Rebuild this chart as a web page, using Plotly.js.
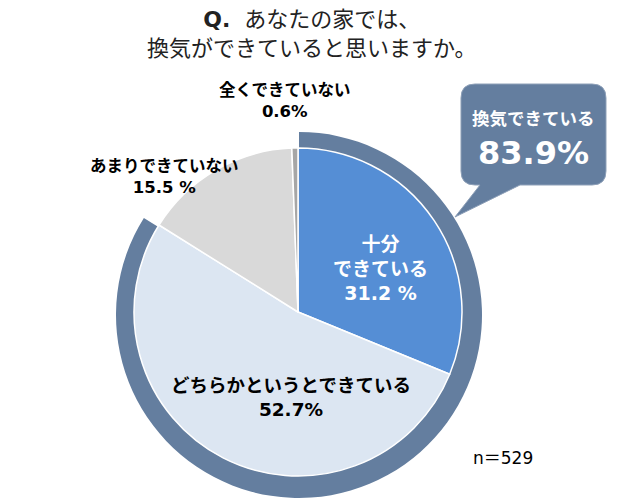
<!DOCTYPE html>
<html>
<head>
<meta charset="utf-8">
<script src="https://cdn.plot.ly/plotly-3.0.1.min.js"></script>
<style>html,body{margin:0;padding:0;background:#fff;}#chart{width:637px;height:500px;}</style>
</head>
<body>
<div id="chart"></div>
<script>
// ---- data ----
var categories = ['十分<br>できている', 'どちらかというとできている', 'あまりできていない', '全くできていない'];
var values = [31.2, 52.7, 15.5, 0.6];
var pctSuffix = [' %', '%', ' %', '%'];
var groupLabel = '換気できている';
var groupValue = 83.9;
var sampleSize = 529;
var titleLines = ['<b>Q.</b>  あなたの家では、', '換気ができていると思いますか。'];

// ---- helpers ----
var W = 637, H = 500;
function px(x) { return x / W; }
function py(y) { return 1 - y / H; }
var FONT = 'DejaVu Sans, Noto Sans CJK JP, sans-serif';
var sliceColors = ['#558ED5', '#DCE6F2', '#D9D9D9', '#A6A6A6'];
var ringColor = '#647E9F';

function dom(cx, cy, r) {
  return { x: [px(cx - r), px(cx + r)], y: [py(cy + r), py(cy - r)] };
}

var ring = {
  type: 'pie',
  values: [groupValue, 100 - groupValue],
  labels: [groupLabel, 'other'],
  marker: { colors: [ringColor, 'rgba(0,0,0,0)'], line: { width: 0 } },
  hole: 0.87,
  sort: false,
  direction: 'clockwise',
  rotation: 0,
  textinfo: 'none',
  hoverinfo: 'skip',
  showlegend: false,
  domain: dom(299, 315, 183)
};

var pie = {
  type: 'pie',
  values: values,
  labels: categories,
  marker: { colors: sliceColors, line: { color: '#ffffff', width: 1.5 } },
  sort: false,
  direction: 'clockwise',
  rotation: 0,
  textinfo: 'none',
  hoverinfo: 'label+percent',
  showlegend: false,
  domain: dom(298, 312, 164)
};

function pct(i) { return values[i].toFixed(1) + pctSuffix[i]; }

var annotations = [
  { x: px(312), y: py(34), text: titleLines.join('<br>'), font: { size: 22, color: '#222' } },
  { x: px(380), y: py(268), text: '<b>' + categories[0] + '<br>' + pct(0) + '</b>', font: { size: 19, color: '#ffffff' } },
  { x: px(291), y: py(397), text: '<b>' + categories[1] + '<br>' + pct(1) + '</b>', font: { size: 18.5, color: '#000' } },
  { x: px(165), y: py(177), text: '<b>' + categories[2] + '<br>' + pct(2) + '</b>', font: { size: 16.5, color: '#000' } },
  { x: px(285), y: py(101), text: '<b>' + categories[3] + '<br>' + pct(3) + '</b>', font: { size: 16.5, color: '#000' } },
  { x: px(533), y: py(119), text: '<b>' + groupLabel + '</b>', font: { size: 17.5, color: '#ffffff' } },
  { x: px(533), y: py(153), text: '<b>' + groupValue.toFixed(1) + '%</b>', font: { size: 32, color: '#ffffff' } },
  { x: px(503), y: py(458), text: 'n＝' + sampleSize, font: { size: 17, color: '#000' } }
].map(function (a) {
  return Object.assign({ xref: 'paper', yref: 'paper', showarrow: false, xanchor: 'center', yanchor: 'middle', align: 'center' }, a, { font: Object.assign({ family: FONT }, a.font) });
});

// speech bubble
function P(x, y) { return px(x).toFixed(5) + ',' + py(y).toFixed(5); }
var bx0 = 461, bx1 = 606, by0 = 84, by1 = 185, rr = 14;
var bubblePath = 'M' + P(bx0 + rr, by0) +
  ' L' + P(bx1 - rr, by0) + ' Q' + P(bx1, by0) + ' ' + P(bx1, by0 + rr) +
  ' L' + P(bx1, by1 - rr) + ' Q' + P(bx1, by1) + ' ' + P(bx1 - rr, by1) +
  ' L' + P(520, by1) + ' L' + P(455, 217) + ' L' + P(480, by1) +
  ' L' + P(bx0 + rr, by1) + ' Q' + P(bx0, by1) + ' ' + P(bx0, by1 - rr) +
  ' L' + P(bx0, by0 + rr) + ' Q' + P(bx0, by0) + ' ' + P(bx0 + rr, by0) + ' Z';

var layout = {
  width: W, height: H,
  margin: { l: 0, r: 0, t: 0, b: 0 },
  paper_bgcolor: '#ffffff',
  showlegend: false,
  shapes: [{ type: 'path', xref: 'paper', yref: 'paper', path: bubblePath, fillcolor: ringColor, line: { color: '#8EA0B8', width: 1 } }],
  annotations: annotations
};

Plotly.newPlot('chart', [ring, pie], layout, { displayModeBar: false, staticPlot: true });
</script>
</body>
</html>
